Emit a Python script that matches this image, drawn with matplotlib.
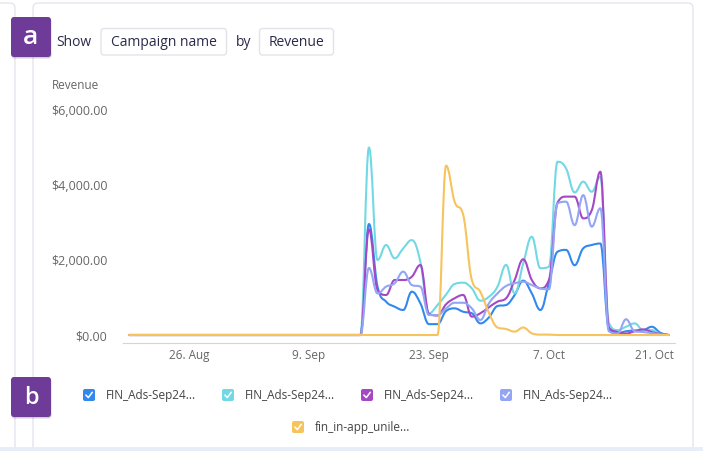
import numpy as np
import pandas as pd
import matplotlib
matplotlib.use('Agg')
import matplotlib.pyplot as plt
import matplotlib.dates as mdates
from matplotlib.path import Path
from matplotlib.patches import PathPatch, FancyBboxPatch, Rectangle
from matplotlib.lines import Line2D
from matplotlib.transforms import Affine2D, ScaledTranslation

plt.rcParams['font.family'] = ['Open Sans', 'DejaVu Sans']

# daily revenue, 19 Aug - 21 Oct 2024
start_day = '2024-08-19'
end_day = '2024-10-21'

ads_1 = [0, 0, 0, 0, 0, 0, 0, 0, 0, 0, 0, 0, 0, 0, 0, 0, 0, 0, 0, 0, 0, 0, 0, 0, 0, 0, 0,
         0, 2960, 1290, 890, 755, 667, 1155, 845, 290, 290, 640, 710, 620, 580, 310, 470,
         773, 800, 1067, 1450, 1110, 667, 1400, 2220, 2270, 1860, 2310, 2400, 2440, 150,
         50, 100, 120, 130, 220, 60, 0]
ads_2 = [0, 0, 0, 0, 0, 0, 0, 0, 0, 0, 0, 0, 0, 0, 0, 0, 0, 0, 0, 0, 0, 0, 0, 0, 0, 0, 0,
         0, 5000, 2000, 2400, 2045, 2310, 2530, 1950, 580, 800, 1080, 1360, 1395, 1245, 915,
         1020, 1290, 1870, 1110, 1910, 2620, 1780, 1820, 4620, 4440, 3800, 4090, 3820, 4220,
         320, 130, 220, 310, 130, 130, 30, 0]
ads_3 = [0, 0, 0, 0, 0, 0, 0, 0, 0, 0, 0, 0, 0, 0, 0, 0, 0, 0, 0, 0, 0, 0, 0, 0, 0, 0, 0,
         0, 2818, 1200, 1067, 1467, 1467, 1555, 1867, 560, 520, 820, 980, 1067, 490, 580,
         740, 890, 980, 1467, 2020, 1467, 1245, 1467, 3530, 3690, 3690, 3110, 3330, 4355,
         200, 80, 40, 100, 150, 80, 30, 0]
ads_4 = [0, 0, 0, 0, 0, 0, 0, 0, 0, 0, 0, 0, 0, 0, 0, 0, 0, 0, 0, 0, 0, 0, 0, 0, 0, 0, 0,
         0, 1787, 1110, 1290, 1380, 1690, 1333, 1290, 533, 533, 710, 860, 860, 710, 400,
         845, 1110, 1307, 1380, 1420, 1333, 1245, 1218, 3510, 3555, 2930, 3730, 2890, 3380,
         100, 40, 420, 100, 80, 50, 20, 0]
in_app = [0, 0, 0, 0, 0, 0, 0, 0, 0, 0, 0, 0, 0, 0, 0, 0, 0, 0, 0, 0, 0, 0, 0, 0, 0, 0, 0,
          0, 0, 0, 0, 0, 0, 0, 0, 0, 0, 4515, 3550, 3200, 1470, 1150, 590, 200, 160, 90,
          200, 45, 10, 10, 0, 0, 0, 0, 0, 0, 0, 0, 0, 0, 0, 0, 0, 0]

series = [ads_1, ads_2, ads_3, ads_4, in_app]
names = ['FIN_Ads-Sep24...', 'FIN_Ads-Sep24...', 'FIN_Ads-Sep24...',
         'FIN_Ads-Sep24...', 'fin_in-app_unile...']
colors = ['#3189ee', '#72d9e4', '#a448c6', '#93a5f4', '#f7c35c']

tick_dates = ['2024-08-26', '2024-09-09', '2024-09-23', '2024-10-07', '2024-10-21']
tick_labels = ['26. Aug', '9. Sep', '23. Sep', '7. Oct', '21. Oct']
y_ticks = [0, 2000, 4000, 6000]
y_labels = ['$0.00', '$2,000.00', '$4,000.00', '$6,000.00']


def spline_path(xs, ys, smooth=1.5):
    # smooth curve through the points, no overshoot past neighbours
    n = len(xs)
    lcx, lcy = xs.copy(), ys.copy()
    rcx, rcy = xs.copy(), ys.copy()
    for i in range(1, n - 1):
        x0, y0 = xs[i - 1], ys[i - 1]
        x1, y1 = xs[i], ys[i]
        x2, y2 = xs[i + 1], ys[i + 1]
        lx = (smooth * x1 + x0) / (smooth + 1)
        ly = (smooth * y1 + y0) / (smooth + 1)
        rx = (smooth * x1 + x2) / (smooth + 1)
        ry = (smooth * y1 + y2) / (smooth + 1)
        corr = (ry - ly) * (rx - x1) / (rx - lx) + y1 - ry
        ly += corr
        ry += corr
        if ly > y0 and ly > y1:
            ly = max(y0, y1); ry = 2 * y1 - ly
        elif ly < y0 and ly < y1:
            ly = min(y0, y1); ry = 2 * y1 - ly
        if ry > y2 and ry > y1:
            ry = max(y2, y1); ly = 2 * y1 - ry
        elif ry < y2 and ry < y1:
            ry = min(y2, y1); ly = 2 * y1 - ry
        lcx[i], lcy[i], rcx[i], rcy[i] = lx, ly, rx, ry
    verts = [(xs[0], ys[0])]
    codes = [Path.MOVETO]
    for i in range(1, n):
        verts += [(rcx[i - 1], rcy[i - 1]), (lcx[i], lcy[i]), (xs[i], ys[i])]
        codes += [Path.CURVE4] * 3
    return Path(verts, codes)


fig = plt.figure(figsize=(7.03, 4.51), dpi=100)
# pixel coords measured from the top-left corner
pix = Affine2D().scale(0.01, -0.01).translate(0, 4.51) + fig.dpi_scale_trans

# card frames
fig.add_artist(FancyBboxPatch((-30, 3), 45, 480, boxstyle='round,pad=0,rounding_size=5',
                              fc='white', ec='#e4e4ee', lw=1, transform=pix, zorder=-2))
fig.add_artist(FancyBboxPatch((33, 3), 660, 480, boxstyle='round,pad=0,rounding_size=5',
                              fc='white', ec='#e4e4ee', lw=1, transform=pix, zorder=-2))
fig.add_artist(Rectangle((0, 446.5), 703, 6, fc='#e8eef8', ec='none', transform=pix, zorder=-1))

# badges
for (bx, by, letter, fs) in [(11, 17, 'a', 19), (11, 377, 'b', 17)]:
    fig.add_artist(FancyBboxPatch((bx + 0.5, by + 1.5), 40, 40, boxstyle='round,pad=0,rounding_size=3',
                                  fc='black', ec='none', alpha=0.18, transform=pix, zorder=1))
    fig.add_artist(FancyBboxPatch((bx, by), 40, 40, boxstyle='round,pad=0,rounding_size=3',
                                  fc='#6f3b98', ec='none', transform=pix, zorder=2))
    fig.text(bx + 20, by + 21, letter, color='white', fontsize=fs, fontweight='semibold',
             ha='center', va='center', transform=pix, zorder=3)

# header controls
navy = '#2c2a4c'
fig.text(56.5, 42, 'Show', color=navy, fontsize=10, ha='left', va='center', transform=pix)
fig.text(236, 42, 'by', color=navy, fontsize=10, ha='left', va='center', transform=pix)
for (x0, w, label) in [(101, 125.5, 'Campaign name'), (259.5, 74, 'Revenue')]:
    fig.add_artist(FancyBboxPatch((x0, 28.5), w, 26.5, boxstyle='round,pad=0,rounding_size=3',
                                  fc='white', ec='#e3e3ea', lw=1, transform=pix))
    fig.text(x0 + w / 2, 42, label, color=navy, fontsize=10, ha='center', va='center',
             transform=pix)

fig.text(51.5, 85.5, 'Revenue', color='#666666', fontsize=8.5, ha='left', va='center',
         transform=pix)

# chart
ax = fig.add_axes([123 / 703, (451 - 343) / 451, 552 / 703, 233 / 451])
ax.patch.set_alpha(0)
dates = pd.date_range(start_day, end_day, freq='D')
xs = mdates.date2num(dates.to_pydatetime())
for vals, col in zip(series, colors):
    path = spline_path(np.array(xs, dtype=float), np.array(vals, dtype=float))
    ax.add_patch(PathPatch(path, fill=False, edgecolor=col, lw=1.5,
                           joinstyle='round', capstyle='round'))

base = mdates.date2num(pd.Timestamp('2024-08-26').to_pydatetime())
ax.set_xlim(base - 7.70, base + 56.71)
ax.set_ylim(-213, 6000)
ax.set_xticks(mdates.date2num(pd.to_datetime(tick_dates).to_pydatetime()))
ax.set_xticklabels(tick_labels)
ax.set_yticks(y_ticks)
ax.set_yticklabels(y_labels)
ax.tick_params(axis='x', length=0, pad=4, labelsize=8.5, labelcolor='#666666')
ax.tick_params(axis='y', length=0, pad=11.3, labelsize=9, labelcolor='#666666')
for s in ['top', 'right', 'left']:
    ax.spines[s].set_visible(False)
ax.spines['bottom'].set_color('#ccd6eb')
ax.spines['bottom'].set_linewidth(0.8)

# last date label is pushed inside the plot
last = ax.get_xticklabels()[-1]
last.set_transform(last.get_transform() + ScaledTranslation(-0.14, 0, fig.dpi_scale_trans))

# legend with check boxes
legend_pos = [(83, 395), (222, 395), (361, 395), (500, 395), (292, 427)]
for (lx, ly), name, col in zip(legend_pos, names, colors):
    fig.add_artist(FancyBboxPatch((lx, ly - 6), 12, 12, boxstyle='round,pad=0,rounding_size=2',
                                  fc=col, ec='none', transform=pix))
    fig.add_artist(Line2D([lx + 3, lx + 5.3, lx + 9.2], [ly + 0.2, ly + 2.6, ly - 2.6],
                          color='white', lw=1.1, transform=pix))
    fig.text(lx + 23, ly, name, color='#444444', fontsize=8.5, ha='left', va='center',
             transform=pix)

fig.savefig('out.png', dpi=100)
